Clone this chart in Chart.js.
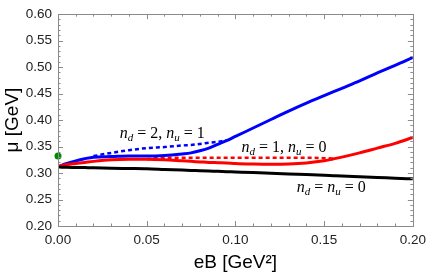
<!DOCTYPE html>
<html>
<head>
<meta charset="utf-8">
<script src="https://cdn.jsdelivr.net/npm/chart.js@4"></script>
<style>
  html, body { margin: 0; padding: 0; background: #fff; }
  #wrap { width: 432px; height: 279px; }
</style>
</head>
<body>
<div id="wrap"><canvas id="c" width="432" height="279"></canvas></div>
<script>
// ---- data ----
const eB = [0, 0.005, 0.01, 0.015, 0.02, 0.03, 0.04, 0.05, 0.06, 0.07, 0.075, 0.08, 0.085, 0.09, 0.095, 0.10, 0.11, 0.12, 0.13, 0.14, 0.15, 0.155, 0.16, 0.17, 0.18, 0.19, 0.20];
const muBlue = [0.312, 0.318, 0.323, 0.327, 0.330, 0.331, 0.332, 0.332, 0.333, 0.336, 0.338, 0.342, 0.347, 0.354, 0.361, 0.369, 0.385, 0.401, 0.417, 0.432, 0.446, 0.453, 0.460, 0.474, 0.489, 0.503, 0.518];
const muBlueDash = [null, null, null, null, 0.332, 0.338, 0.343, 0.347, 0.349, 0.352, 0.353, 0.355, 0.357, 0.359, 0.362, null, null, null, null, null, null, null, null, null, null, null, null];
const muRed = [0.312, 0.316, 0.318, 0.320, 0.322, 0.325, 0.326, 0.326, 0.325, 0.323, 0.322, 0.321, 0.320, 0.3195, 0.319, 0.318, 0.317, 0.3165, 0.317, 0.319, 0.323, 0.3265, 0.330, 0.338, 0.347, 0.356, 0.367];
const muRedDash = [null, null, null, null, null, null, null, 0.326, 0.329, 0.329, 0.329, 0.329, 0.329, 0.329, 0.329, 0.329, 0.329, 0.329, 0.329, 0.329, 0.328, 0.3275, null, null, null, null, null];
const muBlack = [0.311, 0.3108, 0.3105, 0.3102, 0.310, 0.309, 0.3085, 0.308, 0.3068, 0.3056, 0.305, 0.3044, 0.3038, 0.3032, 0.3026, 0.302, 0.3008, 0.2995, 0.2982, 0.297, 0.2957, 0.295, 0.2943, 0.293, 0.2917, 0.2903, 0.289];
const greenX = [0];
const greenY = [0.332];
const xTicks = [0, 0.05, 0.10, 0.15, 0.20];
const yTicks = [0.20, 0.25, 0.30, 0.35, 0.40, 0.45, 0.50, 0.55, 0.60];

// curve labels: [segments], anchored in data units
const labels = [
  { x: 0.0587, y: 0.373, parts: [['n','i'],['d','s'],[' = 2, ','r'],['n','i'],['u','s'],[' = 1','r']] },
  { x: 0.1274, y: 0.347, parts: [['n','i'],['d','s'],[' = 1, ','r'],['n','i'],['u','s'],[' = 0','r']] },
  { x: 0.1540, y: 0.2724, parts: [['n','i'],['d','s'],[' = ','r'],['n','i'],['u','s'],[' = 0','r']] }
];

function pts(ys) { return eB.map((x, i) => ({ x: x, y: ys[i] })); }

const framePlugin = {
  id: 'frameTicks',
  afterDatasetsDraw(chart) {
    const ctx = chart.ctx, a = chart.chartArea;
    const xs = chart.scales.x, ys = chart.scales.y;
    ctx.save();
    ctx.strokeStyle = '#8a8a8a';
    ctx.lineWidth = 1;
    ctx.strokeRect(Math.round(a.left) + 0.5, Math.round(a.top) + 0.5, Math.round(a.right - a.left), Math.round(a.bottom - a.top));
    ctx.beginPath();
    for (let k = 0; k <= 20; k++) {
      const v = k * 0.01;
      const len = (k % 5 === 0) ? 5 : 2.5;
      const px = Math.round(xs.getPixelForValue(v)) + 0.5;
      ctx.moveTo(px, a.bottom); ctx.lineTo(px, a.bottom - len);
      ctx.moveTo(px, a.top); ctx.lineTo(px, a.top + len);
    }
    for (let k = 20; k <= 60; k++) {
      const v = k * 0.01;
      const len = (k % 5 === 0) ? 5 : 2.5;
      const py = Math.round(ys.getPixelForValue(v)) + 0.5;
      ctx.moveTo(a.left, py); ctx.lineTo(a.left + len, py);
      ctx.moveTo(a.right, py); ctx.lineTo(a.right - len, py);
    }
    ctx.stroke();

    // curve labels
    ctx.fillStyle = '#000';
    ctx.textBaseline = 'alphabetic';
    const fMain = 16, fSub = 11;
    const fontFor = (st) => st === 'r' ? `${fMain}px "Liberation Serif"` : (st === 'i' ? `italic ${fMain}px "Liberation Serif"` : `italic ${fSub}px "Liberation Serif"`);
    labels.forEach(l => {
      let w = 0;
      l.parts.forEach(p => { ctx.font = fontFor(p[1]); w += ctx.measureText(p[0]).width; });
      let cx = xs.getPixelForValue(l.x) - w / 2;
      const base = ys.getPixelForValue(l.y) + 4;
      l.parts.forEach(p => {
        ctx.font = fontFor(p[1]);
        ctx.fillText(p[0], cx, p[1] === 's' ? base + 3 : base);
        cx += ctx.measureText(p[0]).width;
      });
    });
    ctx.restore();
  }
};

const lineDs = (label, ys, color, dash, width) => ({
  label: label, data: pts(ys), borderColor: color, backgroundColor: color,
  borderWidth: width, borderDash: dash, pointRadius: 0, fill: false,
  cubicInterpolationMode: 'monotone', spanGaps: false, borderCapStyle: 'butt'
});

new Chart(document.getElementById('c'), {
  type: 'line',
  data: {
    datasets: [
      lineDs('nd=nu=0', muBlack, '#000000', [], 3),
      lineDs('nd=1,nu=0', muRed, '#ff0000', [], 3),
      lineDs('nd=2,nu=1', muBlue, '#0000ff', [], 3),
      lineDs('nd=1,nu=0 dashed', muRedDash, '#ff0000', [4, 3], 2.5),
      lineDs('nd=2,nu=1 dashed', muBlueDash, '#0000ff', [4, 3], 2.5),
      { label: 'point', type: 'scatter', data: greenX.map((x, i) => ({ x: x, y: greenY[i] })),
        pointRadius: 3.5, pointBackgroundColor: '#008a00', pointBorderWidth: 0, showLine: false, clip: false }
    ]
  },
  options: {
    responsive: false,
    animation: false,
    devicePixelRatio: 1,
    layout: { padding: { top: 5, right: 13, left: 0, bottom: 0 } },
    plugins: { legend: { display: false }, tooltip: { enabled: false } },
    scales: {
      x: {
        type: 'linear', min: 0, max: 0.2,
        afterBuildTicks: (s) => { s.ticks = xTicks.map(v => ({ value: v })); },
        afterFit: (s) => { s.height = 53; },
        grid: { display: false, drawTicks: false },
        border: { display: false },
        ticks: { padding: 6, color: '#222', font: { family: 'Liberation Sans', size: 13.5 },
                 callback: (v) => Number(v).toFixed(2), maxRotation: 0, autoSkip: false },
        title: { display: true, text: 'eB [GeV²]', color: '#000', font: { family: 'Liberation Sans', size: 19 }, padding: { top: 0, bottom: 5 } }
      },
      y: {
        type: 'linear', min: 0.2, max: 0.6,
        afterBuildTicks: (s) => { s.ticks = yTicks.map(v => ({ value: v })); },
        afterFit: (s) => { s.width = 58; },
        grid: { display: false, drawTicks: false },
        border: { display: false },
        ticks: { padding: 6, color: '#222', font: { family: 'Liberation Sans', size: 13.5 },
                 callback: (v) => Number(v).toFixed(2), autoSkip: false },
        title: { display: true, text: 'μ [GeV]', color: '#000', font: { family: 'Liberation Sans', size: 19 }, padding: { top: 1, bottom: 0 } }
      }
    }
  },
  plugins: [framePlugin]
});
</script>
</body>
</html>
